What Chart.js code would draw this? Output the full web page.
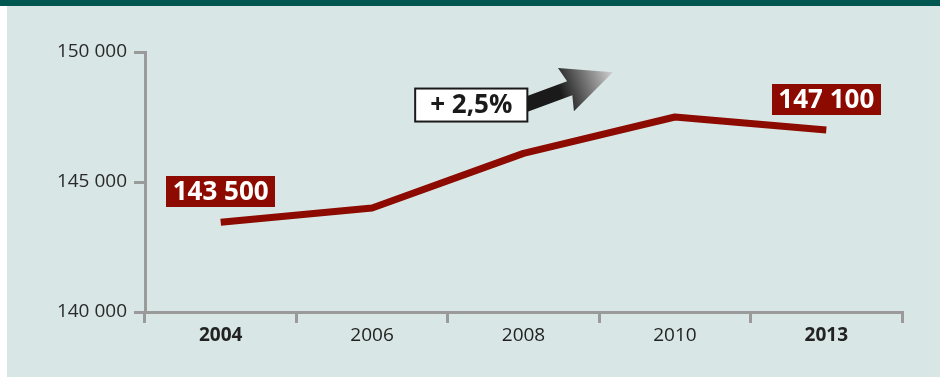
<!DOCTYPE html>
<html>
<head>
<meta charset="utf-8">
<script src="https://cdn.jsdelivr.net/npm/chart.js@4.4.1/dist/chart.umd.min.js"></script>
<style>
  body { margin: 0; background: #ffffff; }
  #band { position: absolute; left: 0; top: 0; width: 940px; height: 6px; background: #00574f; }
  #panel { position: absolute; left: 7px; top: 6px; width: 933px; height: 371px; background: #d8e6e5; }
</style>
</head>
<body>
<div id="band"></div>
<div id="panel"><canvas id="chart-line"></canvas></div>
<script>
// Data
var years = ["2004", "2006", "2008", "2010", "2013"];
var amounts = [143450, 144000, 146100, 147500, 147000];
var pointLabels = ["143 500", null, null, null, "147 100"];
var yTickValues = [140000, 145000, 150000];
var yTickLabels = ["140 000", "145 000", "150 000"];
var growthLabel = "+ 2,5%";

var red = "#8c0a00";
var axisGray = "#9a9a9a";
var fontFamily = "'Open Sans', sans-serif";

// Draws the value boxes and the growth arrow
var annotations = {
  id: "annotations",
  afterDatasetsDraw: function (chart) {
    var ctx = chart.ctx;
    var meta = chart.getDatasetMeta(0);
    var x = chart.scales.x;
    var y = chart.scales.y;

    ctx.save();
    ctx.font = "bold 26px " + fontFamily;
    ctx.textAlign = "center";
    ctx.textBaseline = "middle";

    // value boxes above first and last point
    meta.data.forEach(function (pt, i) {
      var txt = pointLabels[i];
      if (!txt) return;
      var w = ctx.measureText(txt).width + 13;
      var h = 31;
      var bottom = pt.y - 15;
      ctx.fillStyle = red;
      ctx.fillRect(Math.round(pt.x - w / 2), Math.round(bottom - h), Math.round(w), h);
      ctx.fillStyle = "#ffffff";
      ctx.fillText(txt, pt.x, bottom - h / 2 + 1);
    });

    // growth arrow
    var bx = x.getPixelForValue(1.655);
    var by = y.getPixelForValue(147960);
    var sx = bx + 45, sy = by + 3;
    var tx = x.getPixelForValue(2.59), ty = y.getPixelForValue(149220);
    var ang = Math.atan2(ty - sy, tx - sx);
    var len = Math.hypot(tx - sx, ty - sy);
    ctx.translate(sx, sy);
    ctx.rotate(ang);
    var grad = ctx.createLinearGradient(0, 0, len, 0);
    grad.addColorStop(0, "#1a1a1a");
    grad.addColorStop(0.45, "#1a1a1a");
    grad.addColorStop(1, "#d0d0d0");
    ctx.fillStyle = grad;
    ctx.beginPath();
    ctx.moveTo(0, -7.5);
    ctx.lineTo(len - 46, -7.5);
    ctx.lineTo(len - 50, -23);
    ctx.lineTo(len, 0);
    ctx.lineTo(len - 50, 23);
    ctx.lineTo(len - 46, 7.5);
    ctx.lineTo(0, 7.5);
    ctx.closePath();
    ctx.fill();
    ctx.setTransform(1, 0, 0, 1, 0, 0);
    ctx.restore();

    ctx.save();
    ctx.font = "bold 26px " + fontFamily;
    ctx.textAlign = "center";
    ctx.textBaseline = "middle";
    var gw = ctx.measureText(growthLabel).width + 30;
    var gh = 33;
    ctx.fillStyle = "#ffffff";
    ctx.fillRect(bx - gw / 2, by - gh / 2, gw, gh);
    ctx.lineWidth = 2;
    ctx.strokeStyle = "#1a1a1a";
    ctx.strokeRect(bx - gw / 2, by - gh / 2, gw, gh);
    ctx.fillStyle = "#1a1a1a";
    ctx.fillText(growthLabel, bx, by + 1);
    ctx.restore();
  },
};

var ctx1 = document.getElementById("chart-line").getContext("2d");

new Chart(ctx1, {
  type: "line",
  data: {
    labels: years,
    datasets: [
      {
        label: "Total",
        data: amounts,
        borderColor: red,
        borderWidth: 7,
        borderJoinStyle: "round",
        borderCapStyle: "butt",
        pointRadius: 0,
        tension: 0,
        fill: false,
      },
    ],
  },
  options: {
    responsive: true,
    maintainAspectRatio: false,
    animation: false,
    layout: {
      padding: { top: 46, right: 38, left: 0, bottom: 0 },
    },
    plugins: {
      legend: { display: false },
      tooltip: { enabled: false },
    },
    scales: {
      x: {
        offset: true,
        afterFit: function (scale) {
          scale.height = 65;
        },
        border: { display: true, color: axisGray, width: 3 },
        grid: {
          offset: true,
          drawOnChartArea: false,
          drawTicks: true,
          tickLength: 11,
          color: axisGray,
          lineWidth: 3,
        },
        ticks: {
          padding: 1,
          color: "#222222",
          font: function (c) {
            var last = years.length - 1;
            return {
              size: 19,
              family: fontFamily,
              weight: c.index === 0 || c.index === last ? "bold" : "normal",
            };
          },
        },
      },
      y: {
        min: 140000,
        max: 150000,
        afterFit: function (scale) {
          scale.width = 138;
        },
        afterBuildTicks: function (scale) {
          scale.ticks = yTickValues.map(function (v) {
            return { value: v };
          });
        },
        border: { display: true, color: axisGray, width: 3 },
        grid: {
          drawOnChartArea: false,
          drawTicks: true,
          tickLength: 11,
          color: axisGray,
          lineWidth: 3,
        },
        ticks: {
          padding: 7,
          color: "#2a2a2a",
          font: { size: 19, family: fontFamily },
          callback: function (value) {
            var i = yTickValues.indexOf(value);
            return i >= 0 ? yTickLabels[i] : "";
          },
        },
      },
    },
  },
  plugins: [annotations],
});
</script>
</body>
</html>
